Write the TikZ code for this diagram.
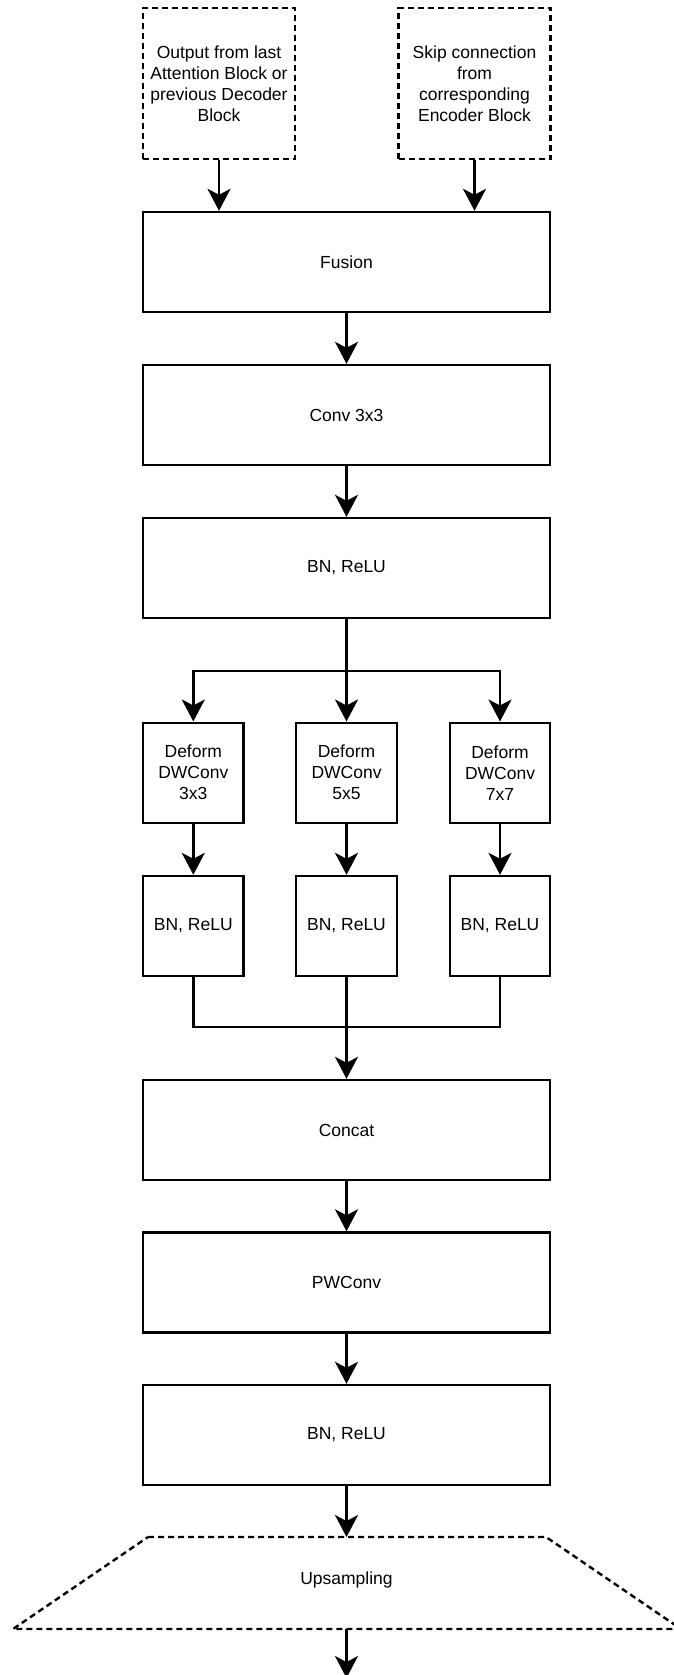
\documentclass[tikz,border=0pt]{standalone}
\usepackage{fontspec}
\setmainfont{Liberation Sans}
\usetikzlibrary{arrows.meta}
\begin{document}
\begin{tikzpicture}[x=1pt,y=-1pt,
  lbl/.style={font=\fontsize{17.5}{21}\selectfont, align=center, inner sep=0pt},
  box/.style={lbl, draw, line width=2.4pt, minimum width=407pt, minimum height=100pt},
  sbox/.style={lbl, draw, line width=2.4pt, minimum width=100.5pt, minimum height=100pt},
  ibox/.style={lbl, draw, line width=2.4pt, dash pattern=on 6pt off 4pt, minimum width=152pt, minimum height=151pt},
  arr/.style={line width=2.4pt, -{Stealth[length=22pt,width=23pt,inset=6pt]}},
  ln/.style={line width=2.4pt},
  dsh/.style={line width=2.4pt, dash pattern=on 6pt off 4pt}]
\useasboundingbox (0,0) rectangle (673,1675);
\fill[white] (0,0) rectangle (673,1675);

\node[ibox] (in1) at (219,83.5) {Output from last\\Attention Block or\\previous Decoder\\Block};
\node[ibox] (in2) at (474.5,83.5) {Skip connection\\from\\corresponding\\Encoder Block};
\node[box] (fusion) at (346.5,262) {Fusion};
\node[box] (conv) at (346.5,415) {Conv 3x3};
\node[box] (bn1) at (346.5,568) {BN, ReLU};

\node[sbox] (d1) at (193.3,772.7) {Deform\\DWConv\\3x3};
\node[sbox] (d2) at (346.5,772.7) {Deform\\DWConv\\5x5};
\node[sbox] (d3) at (500,772.7) {Deform\\DWConv\\7x7};
\node[sbox] (b1) at (193.3,926) {BN, ReLU};
\node[sbox] (b2) at (346.5,926) {BN, ReLU};
\node[sbox] (b3) at (500,926) {BN, ReLU};

\node[box] (concat) at (346.5,1130) {Concat};
\node[box] (pw) at (346.5,1282.5) {PWConv};
\node[box] (bn2) at (346.5,1435) {BN, ReLU};

\coordinate (utl) at (148,1537);
\coordinate (ut) at (346.5,1537);
\coordinate (utr) at (546,1537);
\coordinate (ubr) at (681,1629);
\coordinate (ub) at (346.5,1629);
\coordinate (ubl) at (13,1629);
\coordinate (outp) at (346.5,1678);
\draw[dsh] (utl) -- (utr) -- (ubr) -- (ubl) -- cycle;
\node[lbl] (up) at (346.5,1580) {Upsampling};

\coordinate (split) at (346.5,671);
\coordinate (merge) at (346.5,1027);

\draw[arr] (in1.south) -- (in1.south |- fusion.north);
\draw[arr] (in2.south) -- (in2.south |- fusion.north);
\draw[arr] (fusion) -- (conv);
\draw[arr] (conv) -- (bn1);
\draw[ln] (bn1.south) -- (split);
\draw[arr] (split) -| (d1);
\draw[arr] (split) -- (d2);
\draw[arr] (split) -| (d3);
\draw[arr] (d1) -- (b1);
\draw[arr] (d2) -- (b2);
\draw[arr] (d3) -- (b3);
\draw[ln] (b1) |- (merge);
\draw[ln] (b3) |- (merge);
\draw[arr] (b2) -- (concat);
\draw[arr] (concat) -- (pw);
\draw[arr] (pw) -- (bn2);
\draw[arr] (bn2) -- (ut);
\draw[arr] (ub) -- (outp);
\end{tikzpicture}
\end{document}
